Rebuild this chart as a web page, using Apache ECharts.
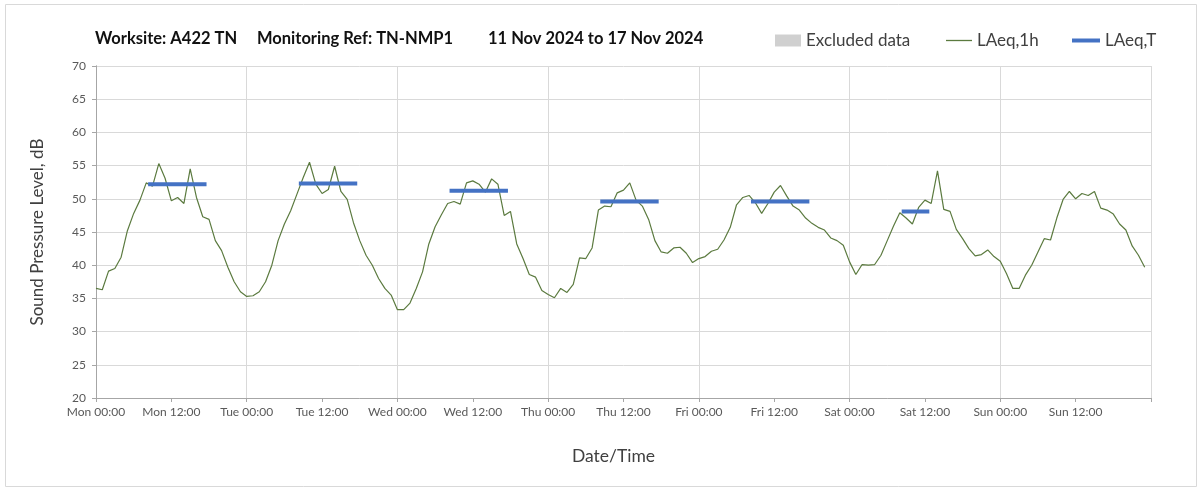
<!DOCTYPE html>
<html>
<head>
<meta charset="utf-8">
<script src="https://cdn.jsdelivr.net/npm/echarts@6/dist/echarts.min.js"></script>
<style>
  html, body { margin: 0; padding: 0; background: #fff; }
  #main { width: 1203px; height: 490px; }
</style>
</head>
<body>
<div id="main"></div>
<script>
// hourly LAeq,1h, Mon 00:00 .. Sun 23:00
var laeq1h = [
    // Mon
    36.5, 36.3, 39.1, 39.5, 41.2, 45.2, 47.8, 49.8, 52.4, 51.9, 55.3, 53.1,
    49.7, 50.2, 49.3, 54.5, 50.2, 47.3, 46.9, 43.7, 42.2, 39.7, 37.5, 36.0,
    // Tue
    35.3, 35.4, 36.0, 37.5, 40.0, 43.7, 46.2, 48.2, 50.7, 53.2, 55.5, 52.2,
    50.8, 51.4, 54.9, 51.1, 49.9, 46.4, 43.7, 41.5, 40.0, 38.0, 36.5, 35.5,
    // Wed
    33.3, 33.3, 34.3, 36.5, 39.0, 43.2, 45.8, 47.6, 49.3, 49.6, 49.2, 52.4,
    52.7, 52.2, 51.0, 53.0, 52.2, 47.5, 48.1, 43.2, 41.0, 38.6, 38.2, 36.2,
    // Thu
    35.6, 35.1, 36.5, 35.9, 37.1, 41.1, 41.0, 42.6, 48.3, 48.9, 48.8, 50.9,
    51.3, 52.4, 49.8, 48.9, 46.9, 43.7, 42.0, 41.8, 42.6, 42.7, 41.8, 40.4,
    // Fri
    41.0, 41.3, 42.1, 42.4, 43.8, 45.7, 49.1, 50.2, 50.5, 49.4, 47.8, 49.3,
    51.0, 52.0, 50.4, 48.9, 48.3, 47.1, 46.3, 45.7, 45.3, 44.1, 43.7, 43.0,
    // Sat
    40.5, 38.6, 40.1, 40.0, 40.1, 41.5, 43.7, 45.9, 47.9, 47.1, 46.2, 48.7,
    49.8, 49.3, 54.2, 48.4, 48.1, 45.4, 44.0, 42.5, 41.4, 41.6, 42.3, 41.3,
    // Sun
    40.6, 38.7, 36.5, 36.5, 38.5, 40.0, 42.0, 44.0, 43.8, 47.1, 49.9, 51.1,
    50.0, 50.8, 50.5, 51.1, 48.6, 48.3, 47.7, 46.2, 45.3, 42.9, 41.5, 39.7
];

// LAeq,T periods (hours from Mon 00:00)
var periodStart = [8.3, 32.3, 56.3, 80.3, 104.3, 128.3];
var periodEnd   = [17.6, 41.6, 65.6, 89.6, 113.6, 132.7];
var periodLevel = [52.2, 52.3, 51.2, 49.6, 49.6, 48.1];

var xTickLabels = [
    'Mon 00:00', 'Mon 12:00', 'Tue 00:00', 'Tue 12:00', 'Wed 00:00', 'Wed 12:00',
    'Thu 00:00', 'Thu 12:00', 'Fri 00:00', 'Fri 12:00', 'Sat 00:00', 'Sat 12:00',
    'Sun 00:00', 'Sun 12:00'
];

var titleParts = ['Worksite: A422 TN', 'Monitoring Ref: TN-NMP1', '11 Nov 2024 to 17 Nov 2024'];

var hourlyData = laeq1h.map(function (v, i) { return [i, v]; });

var periodData = [];
for (var i = 0; i < periodStart.length; i++) {
    periodData.push([periodStart[i], periodLevel[i]]);
    periodData.push([periodEnd[i], periodLevel[i]]);
    periodData.push([periodEnd[i], '-']);
}

var font = 'Lato, "Noto Sans", sans-serif';
var legendText = { fontSize: 17, color: '#404040', fontFamily: font };

var myChart = echarts.init(document.getElementById('main'));

var option = {
    animation: false,
    textStyle: { fontFamily: font },
    title: [
        { text: titleParts[0], left: 95 },
        { text: titleParts[1], left: 257 },
        { text: titleParts[2], left: 488 }
    ].map(function (t) {
        t.top = 30;
        t.padding = 0;
        t.textStyle = { fontFamily: font, fontSize: 16.5, fontWeight: 'bold', color: '#111' };
        return t;
    }),
    // one legend per item so each icon gets its own thickness
    legend: [{
        left: 775, top: 32, padding: 0, itemWidth: 26, itemHeight: 12,
        textStyle: legendText,
        data: [{ name: 'Excluded data', icon: 'rect' }]
    }, {
        left: 946, top: 32, padding: 0, itemWidth: 26, itemHeight: 1.3,
        textStyle: legendText,
        data: [{ name: 'LAeq,1h', icon: 'rect' }]
    }, {
        left: 1072, top: 32, padding: 0, itemWidth: 28, itemHeight: 4,
        textStyle: legendText,
        data: [{ name: 'LAeq,T', icon: 'rect' }]
    }],
    graphic: [{
        type: 'rect',
        shape: { x: 5.5, y: 4.5, width: 1191, height: 482 },
        style: { fill: 'none', stroke: '#d9d9d9', lineWidth: 1 },
        silent: true
    }],
    grid: { left: 96, top: 66, right: 52, bottom: 92 },
    xAxis: [{
        type: 'value',
        min: 0,
        max: 168,
        interval: 12,
        name: 'Date/Time',
        nameLocation: 'middle',
        nameGap: 49,
        nameTextStyle: { fontSize: 17.5, color: '#404040', fontFamily: font, padding: [0, 20, 0, 0] },
        axisLine: { lineStyle: { color: '#a6a6a6' } },
        axisTick: { show: true, length: 4, lineStyle: { color: '#a6a6a6' } },
        axisLabel: {
            fontSize: 12,
            color: '#595959',
            margin: 8,
            formatter: function (v) { return xTickLabels[Math.round(v / 12)] || ''; }
        },
        splitLine: { show: false }
    }, {
        type: 'value',
        min: 0,
        max: 168,
        interval: 24,
        position: 'bottom',
        axisLine: { show: false },
        axisTick: { show: false },
        axisLabel: { show: false },
        splitLine: { show: true, lineStyle: { color: '#d9d9d9' } }
    }],
    yAxis: [{
        type: 'value',
        min: 20,
        max: 70,
        interval: 5,
        name: 'Sound Pressure Level, dB',
        nameLocation: 'middle',
        nameGap: 50,
        nameTextStyle: { fontSize: 17, color: '#404040', fontFamily: font },
        axisLine: { show: true, lineStyle: { color: '#a6a6a6' } },
        axisTick: { show: true, length: 4, lineStyle: { color: '#a6a6a6' } },
        axisLabel: { fontSize: 12, color: '#595959', margin: 10 },
        splitLine: { show: true, lineStyle: { color: '#d9d9d9' } }
    }, {
        type: 'value',
        min: 20,
        max: 70,
        position: 'right',
        axisLine: { show: true, lineStyle: { color: '#a6a6a6' } },
        axisTick: { show: false },
        axisLabel: { show: false },
        splitLine: { show: false }
    }],
    series: [{
        name: 'Excluded data',
        type: 'bar',
        data: [],
        itemStyle: { color: '#d0d0d0' }
    }, {
        name: 'LAeq,1h',
        type: 'line',
        data: hourlyData,
        symbol: 'none',
        lineStyle: { color: '#5b7a3f', width: 1.2 },
        itemStyle: { color: '#5b7a3f' },
        z: 3
    }, {
        name: 'LAeq,T',
        type: 'line',
        data: periodData,
        symbol: 'none',
        connectNulls: false,
        lineStyle: { color: '#4472c4', width: 4 },
        itemStyle: { color: '#4472c4' },
        z: 4
    }]
};

myChart.setOption(option);
</script>
</body>
</html>
